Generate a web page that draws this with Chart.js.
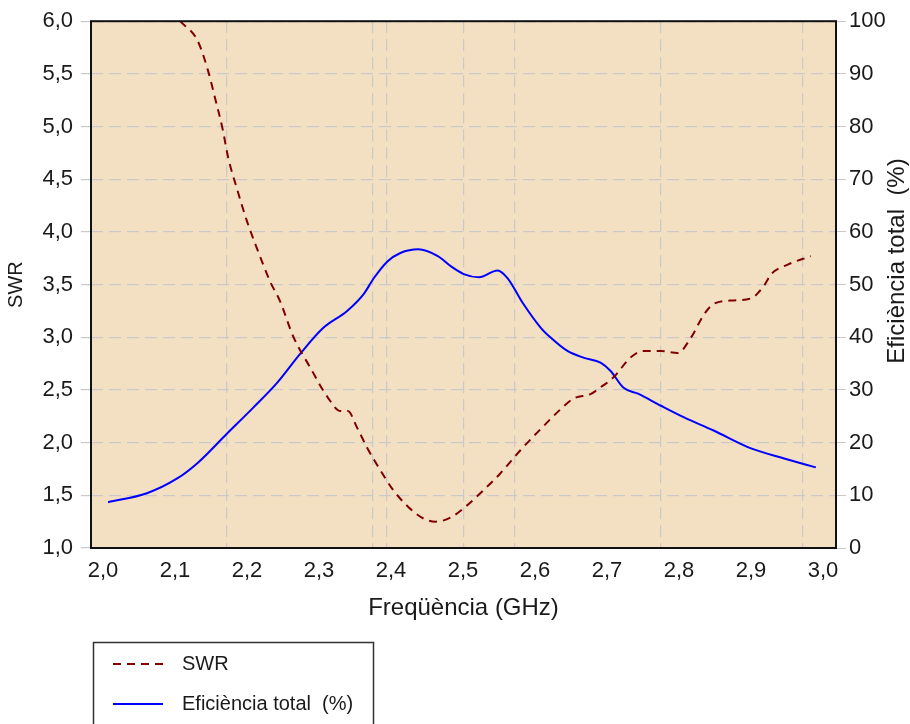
<!DOCTYPE html>
<html>
<head>
<meta charset="utf-8">
<script src="https://cdn.jsdelivr.net/npm/chart.js@4.4.1/dist/chart.umd.min.js"></script>
<style>
  html, body { margin: 0; padding: 0; background: #fff; }
  #wrap { width: 910px; height: 724px; }
</style>
</head>
<body>
<div id="wrap"><canvas id="chart-swr"></canvas></div>
<script>
// SWR (left axis)
const swrFreq = [2.107, 2.131, 2.145, 2.156, 2.166, 2.174, 2.186, 2.200, 2.214, 2.232, 2.246, 2.264, 2.288, 2.312, 2.330, 2.340, 2.353, 2.367, 2.385, 2.403, 2.424, 2.445, 2.462, 2.483, 2.503, 2.524, 2.552, 2.580, 2.608, 2.636, 2.654, 2.677, 2.690, 2.709, 2.733, 2.751, 2.775, 2.798, 2.816, 2.835, 2.849, 2.876, 2.900, 2.918, 2.928, 2.951, 2.983];
const swrValues = [6.00, 5.82, 5.55, 5.26, 4.98, 4.70, 4.41, 4.10, 3.84, 3.53, 3.34, 3.01, 2.71, 2.43, 2.30, 2.30, 2.14, 1.95, 1.74, 1.55, 1.39, 1.28, 1.25, 1.29, 1.39, 1.52, 1.71, 1.93, 2.13, 2.32, 2.42, 2.46, 2.52, 2.62, 2.81, 2.87, 2.87, 2.85, 2.99, 3.22, 3.32, 3.35, 3.37, 3.49, 3.60, 3.69, 3.77];

// Eficiencia total (right axis, %)
const effFreq = [2.007, 2.061, 2.103, 2.131, 2.172, 2.209, 2.242, 2.274, 2.306, 2.339, 2.362, 2.376, 2.395, 2.413, 2.438, 2.465, 2.483, 2.501, 2.522, 2.548, 2.562, 2.583, 2.608, 2.622, 2.645, 2.668, 2.691, 2.705, 2.723, 2.743, 2.775, 2.807, 2.848, 2.900, 2.946, 2.990];
const effValues = [8.7, 10.4, 13.2, 16.1, 21.7, 26.7, 31.4, 36.9, 41.8, 45.0, 48.2, 51.2, 54.4, 56.0, 56.7, 55.4, 53.5, 52.0, 51.4, 52.7, 51.2, 46.5, 41.8, 39.9, 37.4, 36.1, 35.2, 33.6, 30.4, 29.3, 27.0, 24.8, 22.3, 18.9, 17.0, 15.3];

// tick labels
const xTicks = [2.0, 2.1, 2.2, 2.3, 2.4, 2.5, 2.6, 2.7, 2.8, 2.9, 3.0];
const swrTicks = [1.0, 1.5, 2.0, 2.5, 3.0, 3.5, 4.0, 4.5, 5.0, 5.5, 6.0];
const effTicks = [0, 10, 20, 30, 40, 50, 60, 70, 80, 90, 100];
// vertical dashed grid lines (not on the tick values in the original)
const xGridLines = [2.172, 2.374, 2.394, 2.501, 2.572, 2.774, 2.971];

const FONT = "'Liberation Sans', Arial, sans-serif";
const TXT = '#1a1a1a';
const comma = v => Number(v).toFixed(1).replace('.', ',');

// plot background + frame
const frame = {
  id: 'frame',
  beforeDraw(chart) {
    const a = chart.chartArea, c = chart.ctx;
    c.save();
    c.fillStyle = '#f3e0c2';
    c.fillRect(a.left, a.top, a.right - a.left, a.bottom - a.top);
    c.restore();
  },
  afterDatasetsDraw(chart) {
    const a = chart.chartArea, c = chart.ctx;
    c.save();
    c.strokeStyle = '#111';
    c.lineWidth = 2;
    c.strokeRect(a.left, a.top, a.right - a.left, a.bottom - a.top);
    // right axis title (reads bottom to top)
    c.fillStyle = TXT;
    c.font = '24px ' + FONT;
    c.textAlign = 'center';
    c.textBaseline = 'middle';
    c.translate(897, 261);
    c.rotate(-Math.PI / 2);
    c.fillText('Eficiència total  (%)', 0, 0);
    c.restore();
  }
};

// boxed legend under the chart
const boxLegend = {
  id: 'boxLegend',
  afterDraw(chart) {
    const c = chart.ctx;
    c.save();
    c.strokeStyle = '#333';
    c.lineWidth = 1.5;
    c.strokeRect(93.5, 642.5, 280, 100);
    c.font = '20px ' + FONT;
    c.textBaseline = 'middle';
    c.fillStyle = TXT;
    chart.data.datasets.forEach((ds, i) => {
      const y = 664 + i * 40;
      c.strokeStyle = ds.borderColor;
      c.lineWidth = 2;
      c.setLineDash(ds.borderDash || []);
      c.beginPath();
      c.moveTo(113, y);
      c.lineTo(163, y);
      c.stroke();
      c.setLineDash([]);
      c.fillText(ds.label, 182, y);
    });
    c.restore();
  }
};

const ctx = document.getElementById('chart-swr');
const myChart = new Chart(ctx, {
  type: 'line',
  data: {
    datasets: [{
      label: 'SWR',
      data: swrFreq.map((f, i) => ({ x: f, y: swrValues[i] })),
      borderColor: '#800000',
      borderWidth: 2,
      borderDash: [8, 6],
      pointRadius: 0,
      cubicInterpolationMode: 'monotone',
      yAxisID: 'y'
    }, {
      label: 'Eficiència total  (%)',
      data: effFreq.map((f, i) => ({ x: f, y: effValues[i] })),
      borderColor: '#0000ff',
      borderWidth: 2,
      pointRadius: 0,
      cubicInterpolationMode: 'monotone',
      yAxisID: 'y2'
    }]
  },
  options: {
    responsive: true,
    maintainAspectRatio: false,
    animation: false,
    layout: { padding: { top: 19, bottom: 97, left: 0, right: 0 } },
    plugins: {
      legend: { display: false },
      tooltip: { enabled: false }
    },
    scales: {
      x: {
        type: 'linear',
        position: 'bottom',
        min: 1.9833,
        max: 3.018,
        afterBuildTicks: s => { s.ticks = xTicks.map(v => ({ value: v })); },
        afterFit: s => { s.height = 79; },
        grid: { display: false, drawTicks: false },
        border: { display: false },
        ticks: {
          callback: v => comma(v),
          color: TXT,
          font: { family: FONT, size: 22 },
          padding: 10,
          maxRotation: 0,
          autoSkip: false
        },
        title: {
          display: true,
          text: 'Freqüència (GHz)',
          color: TXT,
          font: { family: FONT, size: 24 },
          padding: { top: 4, bottom: 4 }
        }
      },
      xg: {
        type: 'linear',
        position: 'bottom',
        min: 1.9833,
        max: 3.018,
        afterBuildTicks: s => { s.ticks = xGridLines.map(v => ({ value: v })); },
        afterFit: s => { s.height = 0; },
        grid: { color: '#c9c9c9', lineWidth: 1.2, drawTicks: false, tickBorderDash: [12, 6] },
        border: { display: false, dash: [12, 6] },
        ticks: { display: false }
      },
      y: {
        type: 'linear',
        position: 'left',
        min: 1,
        max: 6,
        afterBuildTicks: s => { s.ticks = swrTicks.map(v => ({ value: v })); },
        afterFit: s => { s.width = 91; },
        grid: { color: '#c9c9c9', lineWidth: 1.2, tickLength: 10, tickColor: '#c9c9c9' },
        border: { display: false, dash: [12, 6] },
        ticks: {
          callback: v => comma(v),
          color: TXT,
          font: { family: FONT, size: 22 },
          padding: 8
        },
        title: {
          display: true,
          text: 'SWR',
          color: TXT,
          font: { family: FONT, size: 20 },
          padding: { top: 4, bottom: 4 }
        }
      },
      y2: {
        type: 'linear',
        position: 'right',
        min: 0,
        max: 100,
        afterBuildTicks: s => { s.ticks = effTicks.map(v => ({ value: v })); },
        afterFit: s => { s.width = 74; },
        grid: { drawOnChartArea: false, tickLength: 10, tickColor: '#c9c9c9' },
        border: { display: false },
        ticks: {
          color: TXT,
          font: { family: FONT, size: 22 },
          padding: 3
        }
      }
    }
  },
  plugins: [frame, boxLegend]
});
</script>
</body>
</html>
